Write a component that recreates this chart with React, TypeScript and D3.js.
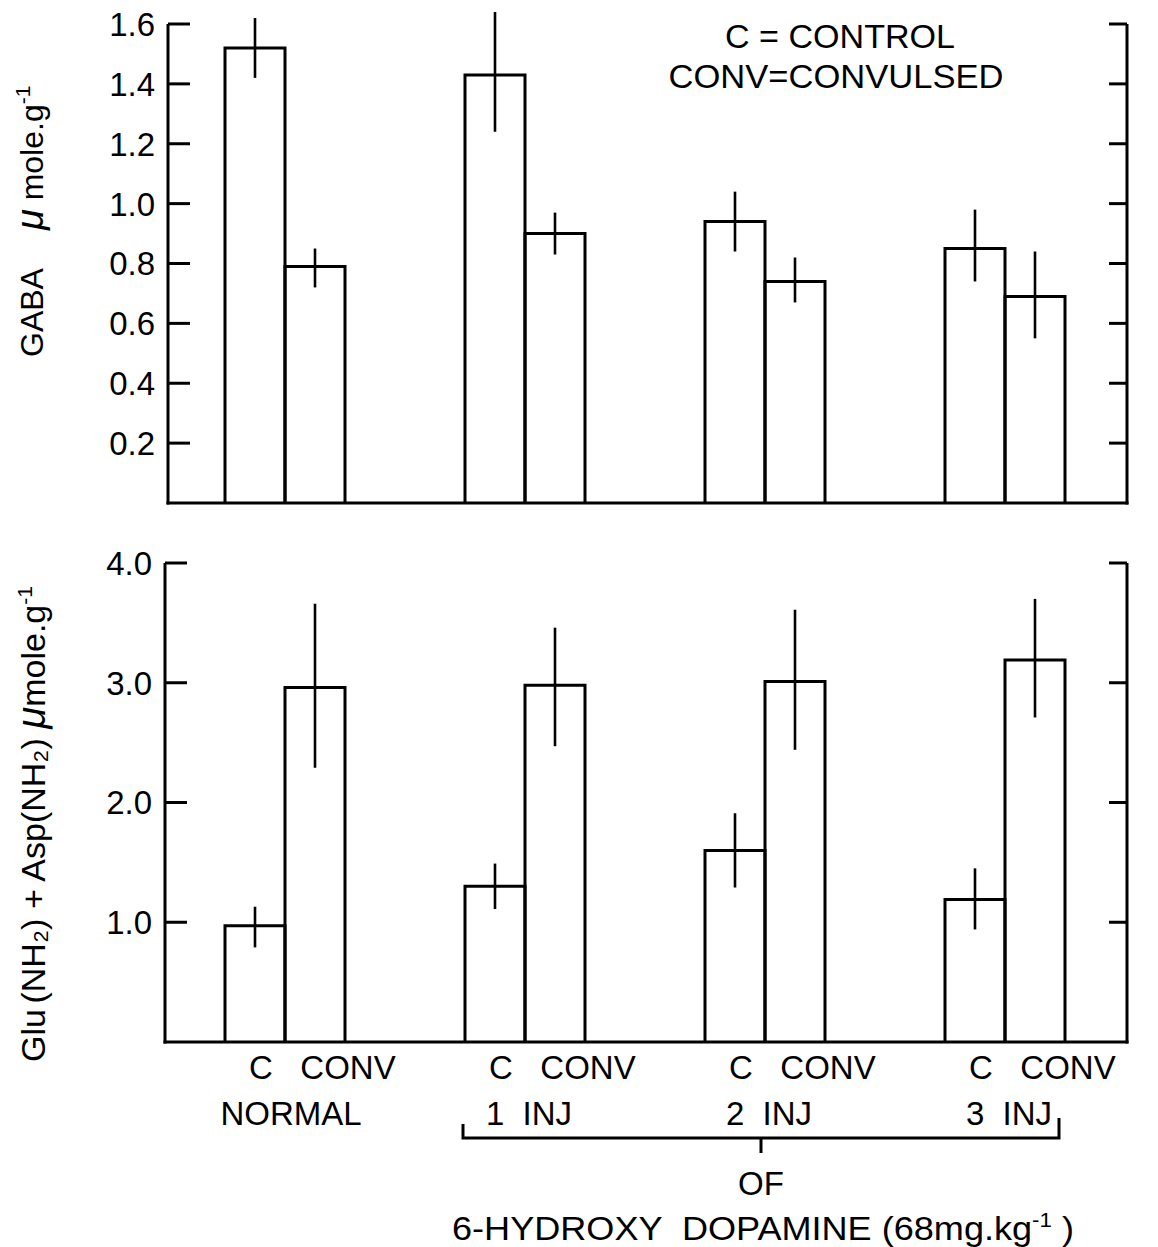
import React from "react";
import * as d3 from "d3";

const groups = ["NORMAL", "1 INJ", "2 INJ", "3 INJ"];
const conditions = ["C", "CONV"];

// GABA (µmole/g): mean, low, high
const gabaC = [1.52, 1.43, 0.94, 0.85];
const gabaCLow = [1.42, 1.24, 0.84, 0.74];
const gabaCHigh = [1.62, 1.64, 1.04, 0.98];
const gabaConv = [0.79, 0.9, 0.74, 0.69];
const gabaConvLow = [0.72, 0.83, 0.67, 0.55];
const gabaConvHigh = [0.85, 0.97, 0.82, 0.84];

// Glu(NH2)+Asp(NH2) (µmole/g)
const gluC = [0.97, 1.3, 1.6, 1.19];
const gluCLow = [0.79, 1.11, 1.29, 0.94];
const gluCHigh = [1.13, 1.49, 1.91, 1.45];
const gluConv = [2.96, 2.98, 3.01, 3.19];
const gluConvLow = [2.29, 2.47, 2.44, 2.71];
const gluConvHigh = [3.66, 3.46, 3.61, 3.7];

const gabaTicks = [0.2, 0.4, 0.6, 0.8, 1.0, 1.2, 1.4, 1.6];
const gluTicks = [1.0, 2.0, 3.0, 4.0];

const groupLabels = ["NORMAL", "1  INJ", "2  INJ", "3  INJ"];

const FONT = "'Liberation Sans', Arial, Helvetica, sans-serif";
const SW = 3;
const PRE: React.CSSProperties = { whiteSpace: "pre" };

type Panel = {
  y: d3.ScaleLinear<number, number>;
  ticks: number[];
  fmt: (v: number) => string;
  left: number;
  right: number;
  c: number[]; cl: number[]; ch: number[];
  v: number[]; vl: number[]; vh: number[];
};

function PanelView({ p, x, xs }: { p: Panel; x: d3.ScaleBand<string>; xs: d3.ScaleBand<string> }) {
  const y0 = p.y(0);
  const yTop = p.y(p.ticks[p.ticks.length - 1]);
  const bars: any[] = [];
  groups.forEach((g, i) => {
    const series = [
      { k: "C", m: p.c[i], lo: p.cl[i], hi: p.ch[i] },
      { k: "CONV", m: p.v[i], lo: p.vl[i], hi: p.vh[i] },
    ];
    series.forEach((s) => {
      const bx = (x(g) as number) + (xs(s.k) as number);
      const bw = xs.bandwidth();
      const cx = bx + bw / 2;
      bars.push(
        <g key={g + s.k}>
          <path
            d={`M${bx},${y0}V${p.y(s.m)}H${bx + bw}V${y0}`}
            fill="none"
            stroke="#000"
            strokeWidth={SW}
          />
          <line x1={cx} x2={cx} y1={p.y(s.lo)} y2={p.y(s.hi)} stroke="#000" strokeWidth={2.6} />
        </g>
      );
    });
  });
  return (
    <g>
      <line x1={p.left} x2={p.left} y1={yTop} y2={y0 + 1.5} stroke="#000" strokeWidth={SW} />
      {p.ticks.map((t) => (
        <g key={"l" + t}>
          <line x1={p.left} x2={p.left + 22} y1={p.y(t)} y2={p.y(t)} stroke="#000" strokeWidth={SW} />
          <text
            x={p.left - 13}
            y={p.y(t)}
            dy="0.36em"
            textAnchor="end"
            fontSize={33}
            fontFamily={FONT}
          >
            {p.fmt(t)}
          </text>
        </g>
      ))}
      <line x1={p.right} x2={p.right} y1={yTop} y2={y0 + 1.5} stroke="#000" strokeWidth={SW} />
      {p.ticks.map((t) => (
        <line key={"r" + t} x1={p.right - 18} x2={p.right} y1={p.y(t)} y2={p.y(t)} stroke="#000" strokeWidth={SW} />
      ))}
      <line x1={p.left - 1.5} x2={p.right + 1.5} y1={y0} y2={y0} stroke="#000" strokeWidth={SW} />
      {bars}
    </g>
  );
}

export default function App() {
  const x = d3.scaleBand<string>().domain(groups).range([225, 1065]).paddingInner(0.5).paddingOuter(0);
  const xs = d3.scaleBand<string>().domain(conditions).range([0, x.bandwidth()]);

  const yGaba = d3.scaleLinear().domain([0, 1.6]).range([503, 24]);
  const yGlu = d3.scaleLinear().domain([0, 4]).range([1042, 563]);

  const top: Panel = {
    y: yGaba, ticks: gabaTicks, fmt: d3.format(".1f"), left: 168, right: 1127,
    c: gabaC, cl: gabaCLow, ch: gabaCHigh, v: gabaConv, vl: gabaConvLow, vh: gabaConvHigh,
  };
  const bot: Panel = {
    y: yGlu, ticks: gluTicks, fmt: d3.format(".1f"), left: 165, right: 1127,
    c: gluC, cl: gluCLow, ch: gluCHigh, v: gluConv, vl: gluConvLow, vh: gluConvHigh,
  };

  const gx = (g: string) => x(g) as number;
  const bw = xs.bandwidth();
  const bracketL = gx(groups[1]) - 2;
  const bracketR = gx(groups[3]) + x.bandwidth() - 6;
  const bracketMid = (bracketL + bracketR) / 2;

  return (
    <div style={{ position: "absolute", left: 0, top: 0 }}>
      <svg width={1158} height={1247} style={{ display: "block", background: "#fff" }}>
        <rect width={1158} height={1247} fill="#fff" />
        <PanelView p={top} x={x} xs={xs} />
        <PanelView p={bot} x={x} xs={xs} />

        {/* legend */}
        <text x={840} y={48} textAnchor="middle" fontSize={33} fontFamily={FONT} style={PRE}
          textLength={230} lengthAdjust="spacingAndGlyphs">
          C = CONTROL
        </text>
        <text x={836} y={88} textAnchor="middle" fontSize={33} fontFamily={FONT}
          textLength={335} lengthAdjust="spacingAndGlyphs">
          CONV=CONVULSED
        </text>

        {/* y axis titles */}
        <text
          transform={`translate(43,357) rotate(-90)`}
          textAnchor="start"
          fontSize={32}
          fontFamily={FONT}
          style={PRE}
        >
          GABA<tspan dx={38} fontStyle="italic" fontSize={38}>μ</tspan> mole.g
          <tspan dy={-13} fontSize={21}>-1</tspan>
        </text>
        <text
          transform={`translate(45,1062) rotate(-90)`}
          textAnchor="start"
          fontSize={34}
          fontFamily={FONT}
          style={PRE}
        >
          Glu<tspan dy={-12} fontSize={20}> </tspan><tspan dy={12}>(NH₂) + Asp(NH₂) </tspan>
          <tspan fontStyle="italic" fontSize={40}>μ</tspan>mole.g
          <tspan dy={-13} fontSize={21}>-1</tspan>
        </text>

        {/* category labels */}
        {groups.map((g) => (
          <g key={"lab" + g}>
            <text x={gx(g) + bw / 2 + 6} y={1079} textAnchor="middle" fontSize={33} fontFamily={FONT}>
              C
            </text>
            <text x={gx(g) + 2 * bw + 3} y={1079} textAnchor="middle" fontSize={33} fontFamily={FONT}>
              CONV
            </text>
          </g>
        ))}
        {groups.map((g, i) => (
          <text
            key={"grp" + g}
            x={gx(g) + x.bandwidth() / 2 + (i === 0 ? 6 : 4)}
            y={1125}
            textAnchor="middle"
            fontSize={33}
            fontFamily={FONT}
            style={PRE}
          >
            {groupLabels[i]}
          </text>
        ))}

        {/* bracket */}
        <path
          d={`M${bracketL},${1124}V${1138}H${bracketR}V${1118}`}
          fill="none"
          stroke="#000"
          strokeWidth={SW}
        />
        <line x1={bracketMid} x2={bracketMid} y1={1138} y2={1153} stroke="#000" strokeWidth={SW} />
        <text x={bracketMid} y={1195} textAnchor="middle" fontSize={33} fontFamily={FONT}>
          OF
        </text>
        <text x={bracketMid + 2} y={1240} textAnchor="middle" fontSize={34} fontFamily={FONT} style={PRE}
          textLength={622} lengthAdjust="spacingAndGlyphs">
          6-HYDROXY  DOPAMINE (68mg.kg
          <tspan dy={-13} fontSize={21}>-1</tspan>
          <tspan dy={13}> )</tspan>
        </text>
      </svg>
    </div>
  );
}
